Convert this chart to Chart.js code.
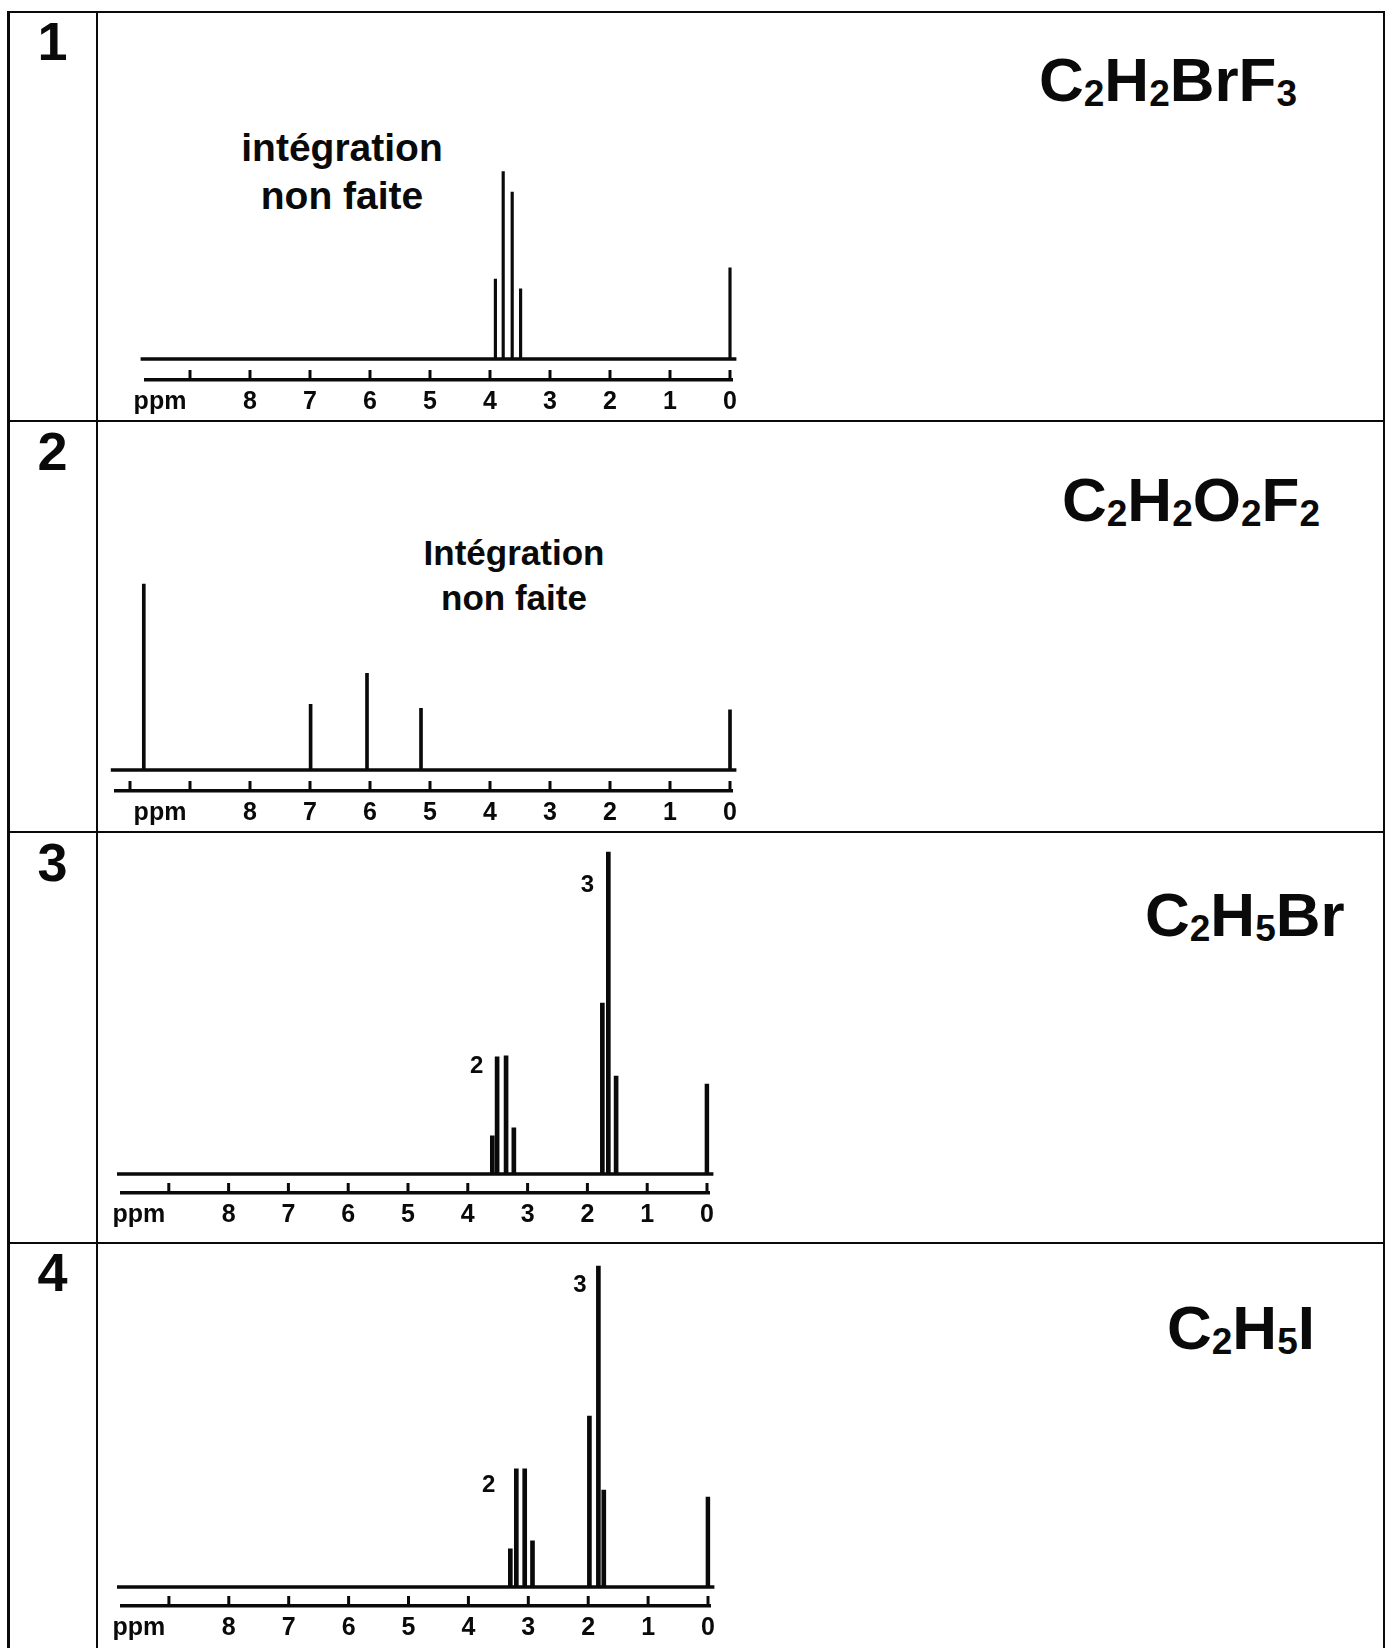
<!DOCTYPE html>
<html>
<head>
<meta charset="utf-8">
<script src="https://cdn.jsdelivr.net/npm/chart.js@4.4.1/dist/chart.umd.min.js"></script>
<style>
  html, body { margin: 0; padding: 0; background: #fff; }
  body { width: 1386px; height: 1648px; position: relative; overflow: hidden;
         font-family: "Liberation Sans", Arial, sans-serif; color: #0a0a0a; }
  .ln { position: absolute; background: #0a0a0a; }
  .num { position: absolute; left: 8px; width: 89px; text-align: center;
         font-size: 54px; font-weight: bold; line-height: 1; }
  .formula { position: absolute; font-size: 62px; font-weight: bold; line-height: 1; white-space: nowrap; }
  .formula span { font-size: 37px; position: relative; top: 5px; }
  .note { position: absolute; text-align: center; font-weight: bold; white-space: nowrap; }
  canvas { position: absolute; }
</style>
</head>
<body>

<!-- table frame -->
<div class="ln" style="left:7px;top:10.5px;width:1378px;height:2.6px"></div>
<div class="ln" style="left:7px;top:10.5px;width:2.6px;height:1640px"></div>
<div class="ln" style="left:95.5px;top:10.5px;width:2.6px;height:1640px"></div>
<div class="ln" style="left:1382.5px;top:10.5px;width:2.6px;height:1640px"></div>
<div class="ln" style="left:7px;top:419.8px;width:1378px;height:2.6px"></div>
<div class="ln" style="left:7px;top:830.8px;width:1378px;height:2.6px"></div>
<div class="ln" style="left:7px;top:1241.5px;width:1378px;height:2.6px"></div>

<div class="num" style="top:14px">1</div>
<div class="num" style="top:424px">2</div>
<div class="num" style="top:835px">3</div>
<div class="num" style="top:1245px">4</div>

<div class="formula" style="left:1039px;top:49px">C<span>2</span>H<span>2</span>BrF<span>3</span></div>
<div class="formula" style="left:1062px;top:469px">C<span>2</span>H<span>2</span>O<span>2</span>F<span>2</span></div>
<div class="formula" style="left:1145px;top:884px">C<span>2</span>H<span>5</span>Br</div>
<div class="formula" style="left:1167px;top:1297px">C<span>2</span>H<span>5</span>I</div>

<div class="note" style="left:192px;width:300px;top:124px;font-size:39px;line-height:48px">intégration<br>non faite</div>
<div class="note" style="left:364px;width:300px;top:530px;font-size:35px;line-height:45px">Intégration<br>non faite</div>

<canvas id="c1"></canvas>
<canvas id="c2"></canvas>
<canvas id="c3"></canvas>
<canvas id="c4"></canvas>

<script>
// axis labels (shared by the four spectra)
const tickValues = [9.5, 8, 7, 6, 5, 4, 3, 2, 1, 0];
const tickLabels = ['ppm', '8', '7', '6', '5', '4', '3', '2', '1', '0'];
const marks9 = [9, 8, 7, 6, 5, 4, 3, 2, 1, 0];
const marks10 = [10, 9, 8, 7, 6, 5, 4, 3, 2, 1, 0];

// 1 : C2H2BrF3
const shift1 = [3.91, 3.78, 3.63, 3.49, 0];
const height1 = [25.0, 58.6, 52.2, 21.9, 28.5];

// 2 : C2H2O2F2
const shift2 = [9.77, 6.99, 6.05, 5.15, 0];
const height2 = [58.1, 20.5, 30.2, 19.3, 18.8];

// 3 : C2H5Br
const shift3 = [3.59, 3.51, 3.36, 3.23, 1.75, 1.65, 1.52, 0];
const height3 = [11.9, 36.6, 36.9, 14.4, 53.4, 100.6, 30.6, 28.1];
const notes3 = [{ text: '2', ppm: 3.85, h: 33.5 }, { text: '3', ppm: 2.0, h: 90.3 }];

// 4 : C2H5I
const shift4 = [3.30, 3.20, 3.06, 2.93, 1.98, 1.83, 1.74, 0];
const height4 = [11.9, 36.9, 36.9, 14.4, 53.4, 100.3, 30.3, 28.1];
const notes4 = [{ text: '2', ppm: 3.66, h: 31.9 }, { text: '3', ppm: 2.14, h: 94.4 }];

const INK = '#0a0a0a';
const FONT = '"Liberation Sans", Arial, sans-serif';
const PX_PER_UNIT = 3.2;   // vertical scale, same for every panel

// baseline, upward ruler ticks and integration numbers
const spectrumDecor = {
    id: 'spectrumDecor',
    afterDatasetsDraw(chart, args, opts) {
        const { ctx, chartArea, scales: { x, y } } = chart;
        ctx.save();
        ctx.strokeStyle = INK;
        ctx.lineWidth = 3.5;
        const y0 = y.getPixelForValue(0);
        ctx.beginPath();
        ctx.moveTo(chartArea.left - 5, y0);
        ctx.lineTo(chartArea.right + 4, y0);
        ctx.stroke();

        ctx.lineWidth = 3;
        opts.marks.forEach(v => {
            const px = x.getPixelForValue(v);
            ctx.beginPath();
            ctx.moveTo(px, chartArea.bottom);
            ctx.lineTo(px, chartArea.bottom - 10);
            ctx.stroke();
        });

        ctx.fillStyle = INK;
        ctx.font = 'bold 24px ' + FONT;
        ctx.textAlign = 'center';
        ctx.textBaseline = 'middle';
        opts.notes.forEach(n => {
            ctx.fillText(n.text, x.getPixelForValue(n.ppm), y.getPixelForValue(n.h));
        });
        ctx.restore();
    }
};

function drawSpectrum(id, shifts, heights, g) {
    const canvas = document.getElementById(id);
    const left = 100, width = 680, axisH = 40;
    const areaTop = g.rowTop + 8;
    const height = g.ruler - areaTop + axisH;
    canvas.width = width;
    canvas.height = height;
    canvas.style.left = left + 'px';
    canvas.style.top = areaTop + 'px';
    canvas.style.width = width + 'px';
    canvas.style.height = height + 'px';

    const xMin = -2.4 / g.ppmPx;
    const xMax = (g.zero - g.rulerLeft) / g.ppmPx;
    const padLeft = g.rulerLeft - left;
    const padRight = left + width - (g.zero + 2.4);

    return new Chart(canvas, {
        type: 'bar',
        data: {
            datasets: [{
                data: shifts.map((s, i) => ({ x: s, y: heights[i] })),
                backgroundColor: INK,
                borderWidth: 0,
                barThickness: g.bar
            }]
        },
        options: {
            responsive: false,
            animation: false,
            layout: { padding: { left: padLeft, right: padRight, top: 0, bottom: 0 } },
            plugins: {
                legend: { display: false },
                tooltip: { enabled: false },
                spectrumDecor: { marks: g.marks, notes: g.notes || [] }
            },
            scales: {
                x: {
                    type: 'linear',
                    reverse: true,
                    offset: false,
                    min: xMin,
                    max: xMax,
                    afterBuildTicks: s => { s.ticks = tickValues.map(v => ({ value: v })); },
                    afterFit: s => { s.height = axisH; },
                    grid: { display: false, drawTicks: false, offset: false },
                    border: { display: true, color: INK, width: 3.5 },
                    ticks: {
                        autoSkip: false,
                        maxRotation: 0,
                        padding: 7,
                        color: INK,
                        font: { family: FONT, size: 25, weight: 'bold' },
                        callback: (v, i) => tickLabels[i]
                    }
                },
                y: {
                    display: false,
                    min: -(g.ruler - g.baseline) / PX_PER_UNIT,
                    max: (g.baseline - areaTop) / PX_PER_UNIT
                }
            }
        },
        plugins: [spectrumDecor]
    });
}

drawSpectrum('c1', shift1, height1,
    { rowTop: 12, ruler: 380, baseline: 359, zero: 730, ppmPx: 60, rulerLeft: 145.6, bar: 2.5, marks: marks9 });
drawSpectrum('c2', shift2, height2,
    { rowTop: 421, ruler: 791, baseline: 770, zero: 730, ppmPx: 60, rulerLeft: 115.8, bar: 3, marks: marks10 });
drawSpectrum('c3', shift3, height3,
    { rowTop: 832, ruler: 1193, baseline: 1174, zero: 707, ppmPx: 59.8, rulerLeft: 122, bar: 4, marks: marks9, notes: notes3 });
drawSpectrum('c4', shift4, height4,
    { rowTop: 1243, ruler: 1606, baseline: 1587, zero: 708, ppmPx: 59.9, rulerLeft: 122, bar: 4, marks: marks9, notes: notes4 });
</script>
</body>
</html>
